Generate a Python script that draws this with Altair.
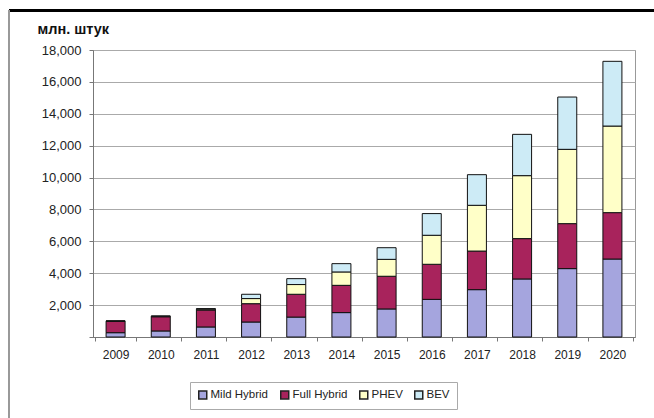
import altair as alt
import pandas as pd

years = ["2009", "2010", "2011", "2012", "2013", "2014", "2015", "2016", "2017", "2018", "2019", "2020"]
mild = [270, 380, 630, 940, 1250, 1530, 1760, 2360, 2970, 3640, 4290, 4890]
full = [710, 890, 1060, 1150, 1430, 1710, 2050, 2200, 2420, 2530, 2820, 2910]
phev = [20, 30, 60, 320, 610, 840, 1060, 1820, 2870, 3950, 4660, 5430]
bev = [10, 20, 30, 270, 370, 520, 730, 1360, 1920, 2590, 3280, 4060]
series = ["Mild Hybrid", "Full Hybrid", "PHEV", "BEV"]
colors = ["#a5a5de", "#a8235c", "#ffffc8", "#cdebf6"]
y_ticks = [0, 2000, 4000, 6000, 8000, 10000, 12000, 14000, 16000, 18000]

rows = []
for i, y in enumerate(years):
    for k, (name, vals) in enumerate(zip(series, [mild, full, phev, bev])):
        rows.append({"year": y, "series": name, "value": vals[i], "ord": k})
df = pd.DataFrame(rows)

bars = alt.Chart(df).mark_bar(size=19, stroke="#111111", strokeWidth=1).encode(
    x=alt.X("year:O", sort=years, title=None,
            axis=alt.Axis(labelAngle=0, labelFontSize=12, labelColor="#222222",
                          labelPadding=8, tickBand="extent", tickSize=4,
                          tickColor="#777777", domainColor="#777777", grid=False)),
    y=alt.Y("value:Q", stack="zero", title="млн. штук",
            scale=alt.Scale(domain=[0, 18000], nice=False),
            axis=alt.Axis(values=y_ticks, labelFontSize=13, labelColor="#222222",
                          labelExpr="datum.value == 0 ? '' : format(datum.value, ',')",
                          labelPadding=8, tickSize=4, tickColor="#777777",
                          domainColor="#777777", gridColor="#aaaaaa",
                          titleAngle=0, titleAlign="left", titleBaseline="alphabetic",
                          titleX=-56, titleY=-17, titleFontSize=14.5,
                          titleFontWeight="bold", titleColor="#111111")),
    color=alt.Color("series:N", sort=series,
                    scale=alt.Scale(domain=series, range=colors),
                    legend=alt.Legend(title=None, orient="none", direction="horizontal",
                                      legendX=97, legendY=332, symbolType="square",
                                      symbolSize=64, symbolStrokeColor="#222222",
                                      symbolStrokeWidth=1.5, labelFontSize=11.5,
                                      labelColor="#222222", columnPadding=8,
                                      labelOffset=2, padding=7,
                                      strokeColor="#aaaaaa", fillColor="white")),
    order=alt.Order("ord:Q", sort="ascending"),
)

top_line = alt.Chart(df).mark_rule(color="#000000", strokeWidth=3).encode(
    x=alt.value(-84), x2=alt.value(562), y=alt.value(-39.5)
)
left_line = alt.Chart(df).mark_rule(color="#999999", strokeWidth=1).encode(
    x=alt.value(-84), y=alt.value(-40), y2=alt.value(368)
)

chart = alt.layer(bars, top_line, left_line).properties(
    width=542, height=287,
    padding={"left": 93, "top": 50, "right": 19, "bottom": 81},
    autosize="none",
    background="white",
).configure(font="Liberation Sans").configure_view(stroke="#999999", strokeWidth=1)

chart.save("out.html", embed_options={"renderer": "svg", "actions": False})
